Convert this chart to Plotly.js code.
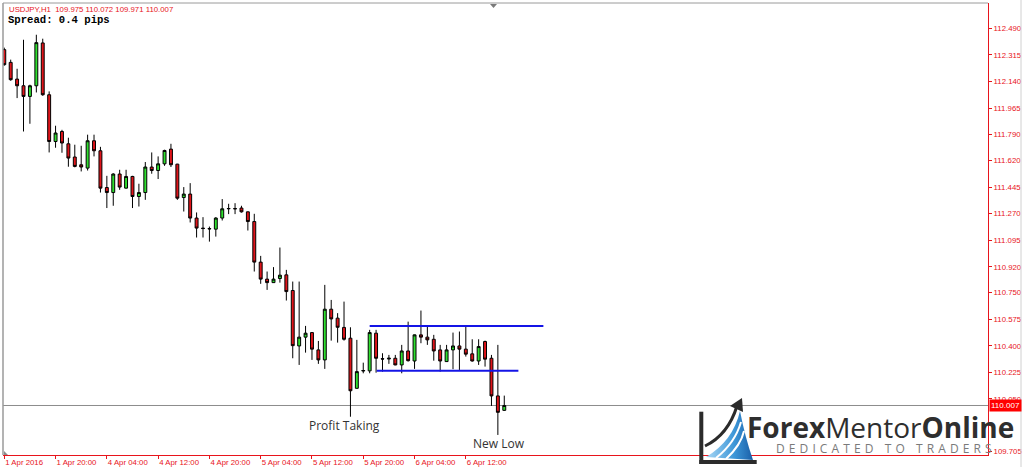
<!DOCTYPE html>
<html>
<head>
<meta charset="utf-8">
<script src="https://cdn.plot.ly/plotly-3.0.1.min.js"></script>
<style>
  html, body { margin: 0; padding: 0; background: #ffffff; }
  #chart { width: 1024px; height: 471px; }
</style>
</head>
<body>
<div id="chart"></div>
<script>
// ---- Data (USDJPY, H1) ----
const openP = [112.350,112.266,112.156,112.112,112.042,112.112,112.394,112.053,111.745,111.811,
111.730,111.643,111.592,111.570,111.750,111.684,111.442,111.409,111.531,111.438,
111.515,111.383,111.409,111.577,111.554,111.598,111.695,111.596,111.376,111.399,
111.241,111.175,111.172,111.168,111.241,111.302,111.304,111.307,111.282,111.218,
110.951,110.839,110.816,110.843,110.867,110.764,110.399,110.457,110.487,110.373,
110.307,110.641,110.582,110.521,110.450,110.120,110.234,110.235,110.483,110.315,
110.313,110.318,110.274,110.366,110.300,110.472,110.457,110.443,110.373,110.296,
110.373,110.399,110.378,110.347,110.300,110.428,110.318,110.070,109.975];

const highP = [112.363,112.284,112.224,112.415,112.119,112.448,112.422,112.075,111.849,111.822,
111.770,111.724,111.717,111.790,111.790,111.710,111.519,111.536,111.559,111.559,
111.519,111.467,111.610,111.673,111.647,111.691,111.730,111.598,111.445,111.471,
111.278,111.247,111.185,111.247,111.366,111.335,111.339,111.322,111.284,111.269,
110.992,110.889,110.918,111.047,110.900,110.823,110.823,110.531,110.490,110.432,
110.801,110.702,110.615,110.691,110.522,110.439,110.289,110.505,110.505,110.351,
110.340,110.340,110.406,110.559,110.474,110.632,110.526,110.472,110.406,110.406,
110.487,110.494,110.531,110.443,110.443,110.434,110.340,110.406,110.072];

const lowP = [112.244,112.145,112.031,111.811,111.862,112.068,112.046,111.673,111.704,111.671,
111.579,111.575,111.548,111.554,111.647,111.409,111.307,111.322,111.427,111.436,
111.307,111.317,111.361,111.533,111.498,111.585,111.577,111.361,111.284,111.212,
111.113,111.113,111.086,111.119,111.225,111.267,111.267,111.277,111.159,110.889,
110.808,110.768,110.814,110.816,110.698,110.318,110.274,110.355,110.307,110.281,
110.248,110.434,110.421,110.434,109.933,110.118,110.219,110.219,110.223,110.230,
110.281,110.272,110.219,110.296,110.248,110.417,110.406,110.302,110.230,110.294,
110.246,110.241,110.329,110.296,110.274,110.263,110.004,109.813,109.971];

const closeP = [112.251,112.152,112.112,112.042,112.112,112.396,112.053,111.745,111.801,111.735,
111.636,111.581,111.577,111.750,111.684,111.438,111.409,111.531,111.445,111.515,
111.383,111.409,111.577,111.554,111.598,111.686,111.592,111.372,111.399,111.241,
111.175,111.172,111.170,111.241,111.302,111.304,111.302,111.282,111.218,110.951,
110.839,110.816,110.839,110.865,110.757,110.401,110.457,110.483,110.378,110.307,
110.641,110.577,110.522,110.443,110.104,110.230,110.237,110.487,110.318,110.313,
110.318,110.274,110.366,110.302,110.472,110.457,110.439,110.366,110.300,110.373,
110.399,110.378,110.345,110.300,110.395,110.312,110.070,109.962,110.007];

// bar positions (one per hourly bar)
const barIndex = openP.map((_, i) => i);

// time-axis labels (every 8th bar)
const timeTickIdx = [0, 8, 16, 24, 32, 40, 48, 56, 64, 72];
const timeTickText = ['1 Apr 2016','1 Apr 20:00','4 Apr 04:00','4 Apr 12:00','4 Apr 20:00',
                      '5 Apr 04:00','5 Apr 12:00','5 Apr 20:00','6 Apr 04:00','6 Apr 12:00'];

// price-axis labels
const priceTicks = [112.490,112.315,112.140,111.965,111.790,111.620,111.445,111.270,111.095,
                    110.920,110.750,110.575,110.400,110.225,110.050,109.875,109.705];
const priceTickText = priceTicks.map(v => v === 109.875 ? '' : v.toFixed(3));

// range (consolidation) lines drawn on the chart
const rangeLevel = [110.531, 110.235];
const rangeStart = [57.0, 58.1];
const rangeEnd   = [84.1, 80.2];

// current price
const lastPrice = 110.007;

// notes
const noteText = ['Profit Taking', 'New Low'];
const noteBar  = [53.0, 77.1];
const notePrice = [109.874, 109.754];

// ---- geometry helpers (pixel -> paper) for decorations ----
const PL = 3, PR = 988, PT = 3, PB = 455;
const xp = px => (px - PL) / (PR - PL);
const yp = py => (PB - py) / (PB - PT);

const RED = '#e8141c';

const trace = {
  type: 'candlestick',
  x: barIndex,
  open: openP, high: highP, low: lowP, close: closeP,
  increasing: { line: { color: '#000000', width: 1 }, fillcolor: '#2fe02f' },
  decreasing: { line: { color: '#000000', width: 1 }, fillcolor: '#e0141a' },
  whiskerwidth: 0,
  hoverinfo: 'skip',
  showlegend: false
};

const shapes = [];
// current price line
shapes.push({ type: 'line', xref: 'paper', yref: 'y', x0: 0, x1: 1, y0: lastPrice, y1: lastPrice,
  line: { color: '#8c8c8c', width: 1 }, layer: 'below' });
// range lines
for (let i = 0; i < rangeLevel.length; i++) {
  shapes.push({ type: 'line', xref: 'x', yref: 'y', x0: rangeStart[i], x1: rangeEnd[i],
    y0: rangeLevel[i], y1: rangeLevel[i], line: { color: '#1414e6', width: 2 } });
}
// frame top and left (gray)
shapes.push({ type: 'line', xref: 'paper', yref: 'paper', x0: 0, x1: 1, y0: 1, y1: 1,
  line: { color: '#9a9a9a', width: 1 } });
shapes.push({ type: 'line', xref: 'paper', yref: 'paper', x0: 0, x1: 0, y0: 0, y1: 1,
  line: { color: '#9a9a9a', width: 1.5 } });
// chart-shift marker at top
shapes.push({ type: 'path', xref: 'paper', yref: 'paper',
  path: `M ${xp(490)} ${yp(4)} L ${xp(497)} ${yp(4)} L ${xp(493.5)} ${yp(8)} Z`,
  fillcolor: '#7a7a7a', line: { width: 0 } });
// small corner marker bottom-left
shapes.push({ type: 'path', xref: 'paper', yref: 'paper',
  path: `M ${xp(4)} ${yp(451)} L ${xp(4)} ${yp(455)} L ${xp(8)} ${yp(455)} Z`,
  fillcolor: '#8a8a8a', line: { width: 0 } });
// window edge on the right
shapes.push({ type: 'line', xref: 'paper', yref: 'paper', x0: xp(1021), x1: xp(1021), y0: yp(0), y1: yp(467),
  line: { color: '#d0d0d0', width: 1 } });

const annotations = [];
// header texts
annotations.push({ xref: 'paper', yref: 'paper', x: xp(7), y: yp(9.7), xanchor: 'left', yanchor: 'middle',
  text: 'USDJPY,H1  109.975 110.072 109.971 110.007', showarrow: false,
  font: { family: 'Liberation Sans, Arial, sans-serif', size: 7.8, color: RED } });
annotations.push({ xref: 'paper', yref: 'paper', x: xp(6), y: yp(19.7), xanchor: 'left', yanchor: 'middle',
  text: '<b>Spread: 0.4 pips</b>', showarrow: false,
  font: { family: 'Liberation Mono, DejaVu Sans Mono, monospace', size: 10.6, color: '#000000' } });
// notes
for (let i = 0; i < noteText.length; i++) {
  annotations.push({ xref: 'x', yref: 'y', x: noteBar[i], y: notePrice[i], text: noteText[i],
    showarrow: false, xanchor: 'center', yanchor: 'middle',
    font: { family: 'Open Sans, sans-serif', size: 12, color: '#333333' } });
}
// current price box
annotations.push({ xref: 'paper', yref: 'y', x: 1, y: lastPrice, xanchor: 'left', yanchor: 'middle',
  text: lastPrice.toFixed(3), showarrow: false, bgcolor: '#ff0000', borderpad: 1, xshift: 1,
  font: { family: 'Liberation Sans, Arial, sans-serif', size: 8, color: '#ffffff' } });
// logo text
annotations.push({ xref: 'paper', yref: 'paper', x: xp(745), y: yp(427), xanchor: 'left', yanchor: 'middle',
  text: '<b>Forex</b>Mentor<b>Online</b>', showarrow: false,
  font: { family: 'Open Sans, sans-serif', size: 28, color: '#2e2e2e' } });
annotations.push({ xref: 'paper', yref: 'paper', x: xp(774), y: yp(448), xanchor: 'left', yanchor: 'middle',
  text: '<span style="letter-spacing:4.1px">DEDICATED TO TRADERS</span>', showarrow: false,
  font: { family: 'Open Sans, sans-serif', size: 12, color: '#7a7a7a' } });

// logo icon (decoration) as inline svg
const iconSvg = `<svg xmlns="http://www.w3.org/2000/svg" width="65" height="72" viewBox="0 0 65 72">
<defs><linearGradient id="g" x1="0" y1="0" x2="1" y2="0">
<stop offset="0" stop-color="#a9d8f5"/><stop offset="0.6" stop-color="#3d97d8"/><stop offset="1" stop-color="#1a5fa8"/></linearGradient></defs>
<path d="M 11 62 Q 38 46 45 16 Q 50 42 58 65 Z" fill="url(#g)"/>
<path d="M 21 63 Q 40 48 46 27" stroke="#ffffff" stroke-width="2" fill="none"/>
<path d="M 31 64 Q 46 50 49 36" stroke="#ffffff" stroke-width="2" fill="none"/>
<path d="M 10 51 Q 33 40 42 11" stroke="#2b2b2b" stroke-width="3" fill="none"/>
<path d="M 35 11 L 47 3 L 48 17 Z" fill="#2b2b2b"/>
<rect x="4.3" y="16.7" width="4" height="52.3" fill="#2b2b2b"/>
<rect x="4.3" y="65" width="57.4" height="4" fill="#2b2b2b"/>
</svg>`;
const images = [{
  source: 'data:image/svg+xml;utf8,' + encodeURIComponent(iconSvg),
  xref: 'paper', yref: 'paper', x: xp(695), y: yp(395),
  sizex: 65 / (PR - PL), sizey: 72 / (PB - PT), xanchor: 'left', yanchor: 'top',
  sizing: 'stretch', layer: 'above'
}];

const layout = {
  width: 1024, height: 471,
  margin: { l: PL, r: 1024 - PR, t: PT, b: 471 - PB, pad: 0 },
  paper_bgcolor: '#ffffff', plot_bgcolor: '#ffffff',
  showlegend: false,
  boxgap: 0.35,
  xaxis: {
    range: [-0.2, 153.46], fixedrange: true,
    showgrid: false, zeroline: false,
    showline: true, linecolor: RED, linewidth: 1,
    tickmode: 'array', tickvals: timeTickIdx, ticktext: timeTickText,
    ticks: 'outside', ticklen: 3, tickcolor: RED, tickwidth: 1,
    ticklabelposition: 'outside right',
    tickfont: { family: 'Liberation Sans, Arial, sans-serif', size: 7.8, color: RED },
    rangeslider: { visible: false }
  },
  yaxis: {
    side: 'right', range: [109.681, 112.657], fixedrange: true,
    showgrid: false, zeroline: false,
    showline: true, linecolor: RED, linewidth: 1,
    tickmode: 'array', tickvals: priceTicks, ticktext: priceTickText,
    ticks: 'outside', ticklen: 3, tickcolor: RED, tickwidth: 1,
    tickfont: { family: 'Liberation Sans, Arial, sans-serif', size: 7.8, color: RED }
  },
  shapes: shapes,
  annotations: annotations,
  images: images
};

Plotly.newPlot('chart', [trace], layout, { staticPlot: true, displayModeBar: false });
</script>
</body>
</html>
